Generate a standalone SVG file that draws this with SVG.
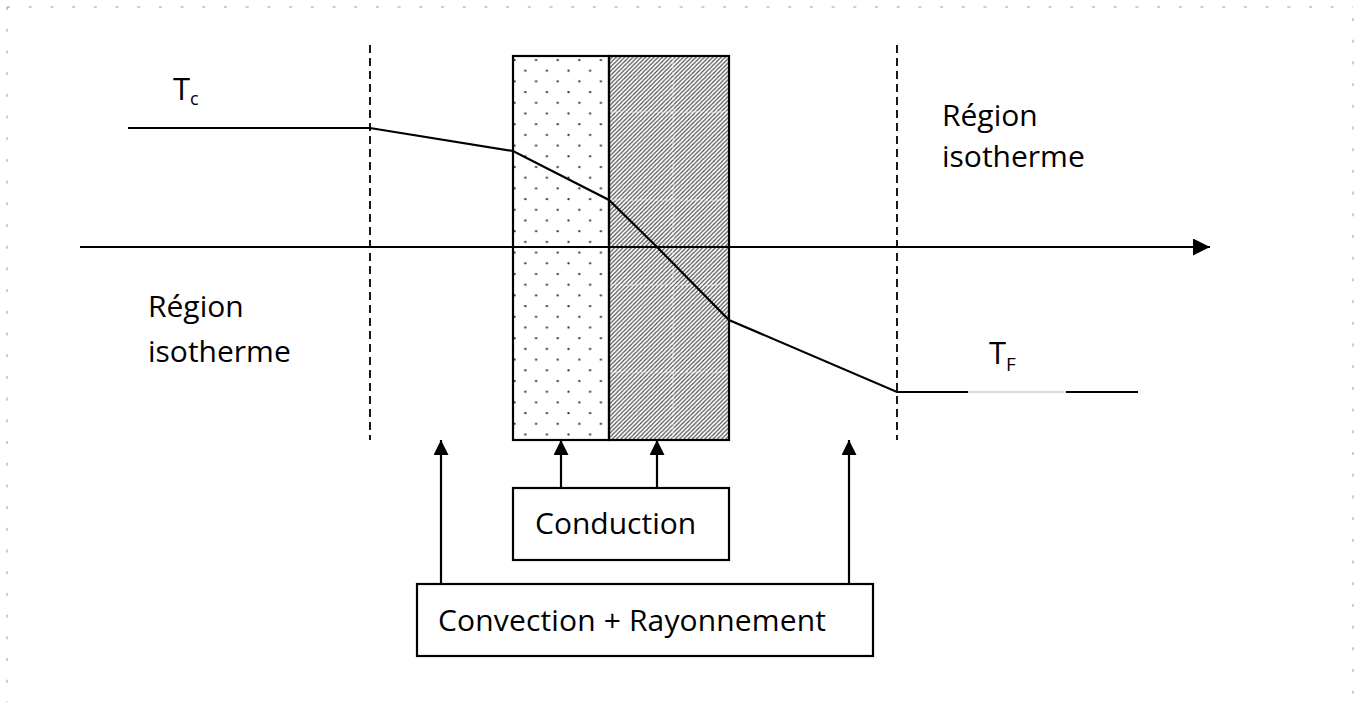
<svg xmlns="http://www.w3.org/2000/svg" width="1362" height="702" viewBox="0 0 1362 702">
<style>
.t{font-family:"Open Sans","DejaVu Sans",sans-serif;fill:#000;}
.lbl{font-size:30px;}
.ln{fill:none;stroke:#000;stroke-width:2.2;}
.dash{fill:none;stroke:#000;stroke-width:1.8;stroke-dasharray:8 5;}
.box{fill:#fff;stroke:#000;stroke-width:2.2;}
.frame{fill:none;stroke:#9a9a9a;stroke-width:1;stroke-dasharray:3 18.7;}
.cell{fill:none;stroke:#fff;stroke-width:1;stroke-dasharray:3 2;opacity:0.8;}
</style>
<defs>
<marker id="ah" viewBox="0 0 16 16" refX="16" refY="8" markerWidth="17" markerHeight="17" markerUnits="userSpaceOnUse" orient="auto">
<path d="M0,0 L16,8 L0,16 Z" fill="#000"/>
</marker>
<marker id="av" viewBox="0 0 15 15" refX="15" refY="7.5" markerWidth="15" markerHeight="15" markerUnits="userSpaceOnUse" orient="auto">
<path d="M0,0 L15,7.5 L0,15 Z" fill="#000"/>
</marker>
<pattern id="dots" x="513" y="56" width="21.6" height="21.4" patternUnits="userSpaceOnUse">
<rect width="21.6" height="21.4" fill="#fff"/>
<circle cx="1.5" cy="4" r="1.2" fill="#333"/>
<circle cx="12.3" cy="14.7" r="1.2" fill="#333"/>
</pattern>
<pattern id="hatch" x="609" y="56" width="4.2" height="4.2" patternUnits="userSpaceOnUse">
<rect width="4.2" height="4.2" fill="#fff"/>
<path d="M-1,1.1 L1.1,-1 M0,4.2 L4.2,0 M3.1,5.2 L5.2,3.1" stroke="#4a4a4a" stroke-width="1.1"/>
</pattern>
</defs>

<g id="frame">
<line class="frame" x1="7" y1="7" x2="1353" y2="7"/>
<line class="frame" x1="7" y1="7" x2="7" y2="702"/>
<line class="frame" x1="1353" y1="18" x2="1353" y2="702"/>
</g>

<g id="wall">
<rect x="513" y="56" width="96" height="384" fill="url(#dots)"/>
<rect x="609" y="56" width="120" height="384" fill="url(#hatch)"/>
<line class="cell" x1="673" y1="57" x2="673" y2="439"/>
<line class="cell" x1="610" y1="112" x2="728" y2="112"/>
<line class="cell" x1="610" y1="200" x2="728" y2="200"/>
<line class="cell" x1="610" y1="285" x2="728" y2="285"/>
<line class="cell" x1="610" y1="372" x2="728" y2="372"/>
<rect x="513" y="56" width="96" height="384" fill="none" stroke="#000" stroke-width="2.2"/>
<rect x="609" y="56" width="120" height="384" fill="none" stroke="#000" stroke-width="2.2"/>
</g>

<g id="limits">
<line class="dash" x1="370" y1="45" x2="370" y2="440"/>
<line class="dash" x1="897" y1="45" x2="897" y2="440"/>
</g>

<g id="profile">
<polyline class="ln" points="128,128 370,128 513,151 609,200 657,247 729,320 897,392 968,392"/>
<line x1="968" y1="392" x2="1066" y2="392" stroke="#cfcfcf" stroke-width="1.5"/>
<line class="ln" x1="1066" y1="392" x2="1138" y2="392"/>
</g>

<g id="connectors">
<line class="ln" x1="80" y1="247" x2="1210" y2="247" marker-end="url(#ah)"/>
<line class="ln" x1="561" y1="488" x2="561" y2="440" marker-end="url(#av)"/>
<line class="ln" x1="657" y1="488" x2="657" y2="440" marker-end="url(#av)"/>
<line class="ln" x1="441" y1="584" x2="441" y2="440" marker-end="url(#av)"/>
<line class="ln" x1="849" y1="584" x2="849" y2="440" marker-end="url(#av)"/>
</g>

<g id="Tc">
<text class="t" x="173" y="100" font-size="31">T<tspan font-size="18" dy="5">c</tspan></text>
</g>
<g id="TF">
<text class="t" x="989" y="364" font-size="31">T<tspan font-size="19" dy="7">F</tspan></text>
</g>

<g id="region-left">
<text class="t lbl" x="148" y="317">Région</text>
<text class="t lbl" x="148" y="362">isotherme</text>
</g>
<g id="region-right">
<text class="t lbl" x="942" y="126">Région</text>
<text class="t lbl" x="942" y="167">isotherme</text>
</g>

<g id="conduction">
<rect class="box" x="513" y="488" width="216" height="72"/>
<text class="t lbl" x="535" y="534">Conduction</text>
</g>
<g id="convection">
<rect class="box" x="417" y="584" width="456" height="72"/>
<text class="t lbl" x="438" y="631" textLength="388" lengthAdjust="spacing">Convection + Rayonnement</text>
</g>
</svg>
